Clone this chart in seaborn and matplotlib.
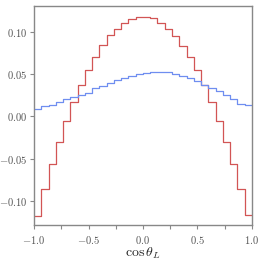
import numpy as np
import pandas as pd
import matplotlib
matplotlib.use("Agg")
import matplotlib.pyplot as plt
import seaborn as sns
from matplotlib.ticker import MultipleLocator

# 30 bins in cos(theta_L) from -1 to 1
n_bins = 30
bin_edges = np.linspace(-1.0, 1.0, n_bins + 1)
bin_centers = 0.5 * (bin_edges[:-1] + bin_edges[1:])

red_vals = [-0.117, -0.086, -0.0565, -0.030, -0.0055, 0.017, 0.0365, 0.055,
            0.070, 0.084, 0.0957, 0.1035, 0.110, 0.115, 0.1176, 0.1176,
            0.116, 0.110, 0.103, 0.0953, 0.0835, 0.0698, 0.0549, 0.0365,
            0.0168, -0.0055, -0.030, -0.0565, -0.086, -0.1165]
blue_vals = [0.009, 0.0118, 0.014, 0.017, 0.020, 0.023, 0.0255, 0.028,
             0.033, 0.036, 0.039, 0.043, 0.0447, 0.048, 0.050, 0.051,
             0.0526, 0.0526, 0.0524, 0.050, 0.048, 0.0455, 0.042, 0.0375,
             0.033, 0.030, 0.0255, 0.020, 0.0145, 0.014]

df = pd.DataFrame({"x": bin_centers, "red": red_vals, "blue": blue_vals})

sns.set_style("ticks")
plt.rcParams["font.family"] = "serif"
plt.rcParams["font.serif"] = ["cmr10", "DejaVu Serif"]
plt.rcParams["mathtext.fontset"] = "cm"
plt.rcParams["axes.formatter.use_mathtext"] = True

fig = plt.figure(figsize=(2.66, 2.66), dpi=100)
ax = fig.add_axes([0.128, 0.154, 0.819, 0.823])

sns.histplot(data=df, x="x", weights="red", bins=n_bins, binrange=(-1, 1),
             element="step", fill=False, color="#d25555", linewidth=0.9, ax=ax)
sns.histplot(data=df, x="x", weights="blue", bins=n_bins, binrange=(-1, 1),
             element="step", fill=False, color="#6f8ef0", linewidth=0.9, ax=ax)

ax.set_xlim(-1.0, 1.0)
ax.set_ylim(-0.128, 0.13)
ax.xaxis.set_major_locator(MultipleLocator(0.5))
ax.xaxis.set_minor_locator(MultipleLocator(0.25))
ax.yaxis.set_major_locator(MultipleLocator(0.05))
ax.set_xlabel(r"$\cos\theta_L$", fontsize=10, labelpad=0)
ax.set_ylabel("")

for s in ax.spines.values():
    s.set_visible(True)
    s.set_color("#888888")
    s.set_linewidth(1.0)
ax.tick_params(which="both", direction="out", color="#888888", labelcolor="#555555",
               labelsize=7.6, width=0.8, length=3)
ax.tick_params(axis="y", pad=2)

fig.savefig("out.png", dpi=100)
